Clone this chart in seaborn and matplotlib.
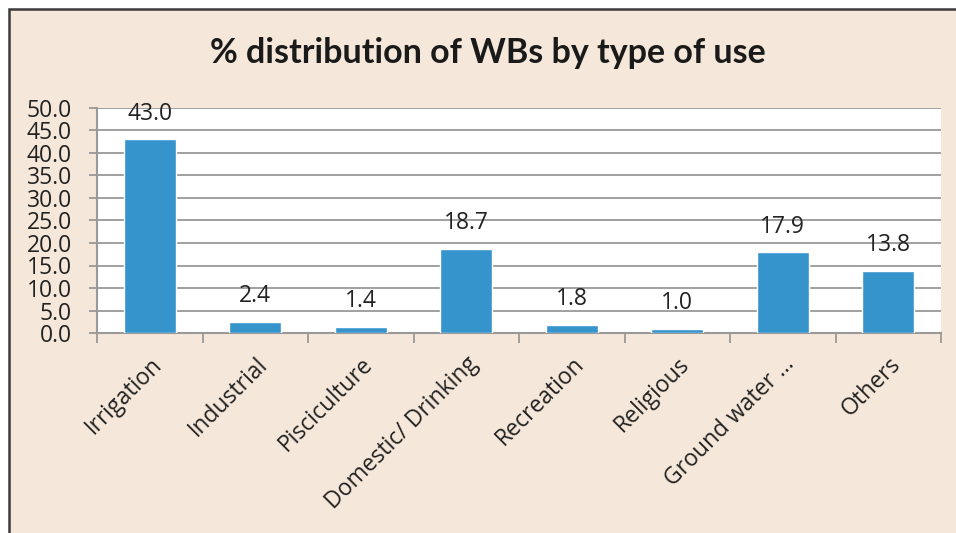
import matplotlib
matplotlib.use("Agg")
import matplotlib.pyplot as plt
import seaborn as sns
import pandas as pd
from matplotlib.patches import Rectangle

categories = ["Irrigation", "Industrial", "Pisciculture", "Domestic/ Drinking",
              "Recreation", "Religious", "Ground water ...", "Others"]
values = [43.0, 2.4, 1.4, 18.7, 1.8, 1.0, 17.9, 13.8]
yticks = [0, 5, 10, 15, 20, 25, 30, 35, 40, 45, 50]

df = pd.DataFrame({"use": categories, "pct": values})

sns.set_theme(style="white")
plt.rcParams["font.family"] = ["Open Sans", "DejaVu Sans"]

bg = "#F5E8DA"
txt = "#222222"
fs = 16.5
fig = plt.figure(figsize=(9.56, 5.33), dpi=100)
fig.patch.set_facecolor("white")
# beige chart area with dark border on top/left
fig.patches.append(Rectangle((9 / 956, -0.01), 1, 1.01 - 9 / 533, transform=fig.transFigure,
                             facecolor=bg, edgecolor="#3a3a3a", linewidth=1.8, zorder=-10))

ax = fig.add_axes([97 / 956, 1 - 333 / 533, (941 - 97) / 956, (333 - 108) / 533])
ax.set_facecolor("white")
sns.barplot(data=df, x="use", y="pct", color="#3694CD", saturation=1, width=0.49, ax=ax, zorder=3)

ax.set_ylim(0, 50)
ax.set_xlim(-0.5, len(categories) - 0.5)
ax.set_yticks(yticks)
ax.set_yticklabels([f"{v:.1f}" for v in yticks], fontsize=fs, color=txt)
ax.yaxis.grid(True, color="#999999", linewidth=1.3, zorder=0)
ax.tick_params(axis="y", length=6, width=1.3, color="#999999", pad=12, direction="out", left=True)

# x ticks between categories
ax.set_xticks([i - 0.5 for i in range(len(categories) + 1)], minor=False)
ax.set_xticklabels([])
ax.tick_params(axis="x", length=7, width=1.3, color="#999999", direction="out", bottom=True)
ax.set_xticks(range(len(categories)), minor=True)
ax.set_xticklabels(categories, minor=True, rotation=45, ha="right", rotation_mode="anchor",
                   fontsize=fs, color=txt)
ax.tick_params(axis="x", which="minor", length=0, pad=14)

for s in ["top", "right"]:
    ax.spines[s].set_visible(False)
for s in ["left", "bottom"]:
    ax.spines[s].set_color("#999999")
    ax.spines[s].set_linewidth(1.5)

for i, v in enumerate(values):
    ax.annotate(f"{v:.1f}", (i, v), xytext=(0, 10), textcoords="offset points",
                ha="center", va="bottom", fontsize=fs, color=txt, annotation_clip=False)

ax.set_xlabel("")
ax.set_ylabel("")
fig.text(488 / 956, 1 - 53 / 533, "% distribution of WBs by type of use", ha="center", va="center",
         fontsize=24.5, fontweight="bold", color="#1a1a1a", family=["Lato", "DejaVu Sans"])

fig.savefig("out.png", dpi=100, facecolor=fig.get_facecolor())
